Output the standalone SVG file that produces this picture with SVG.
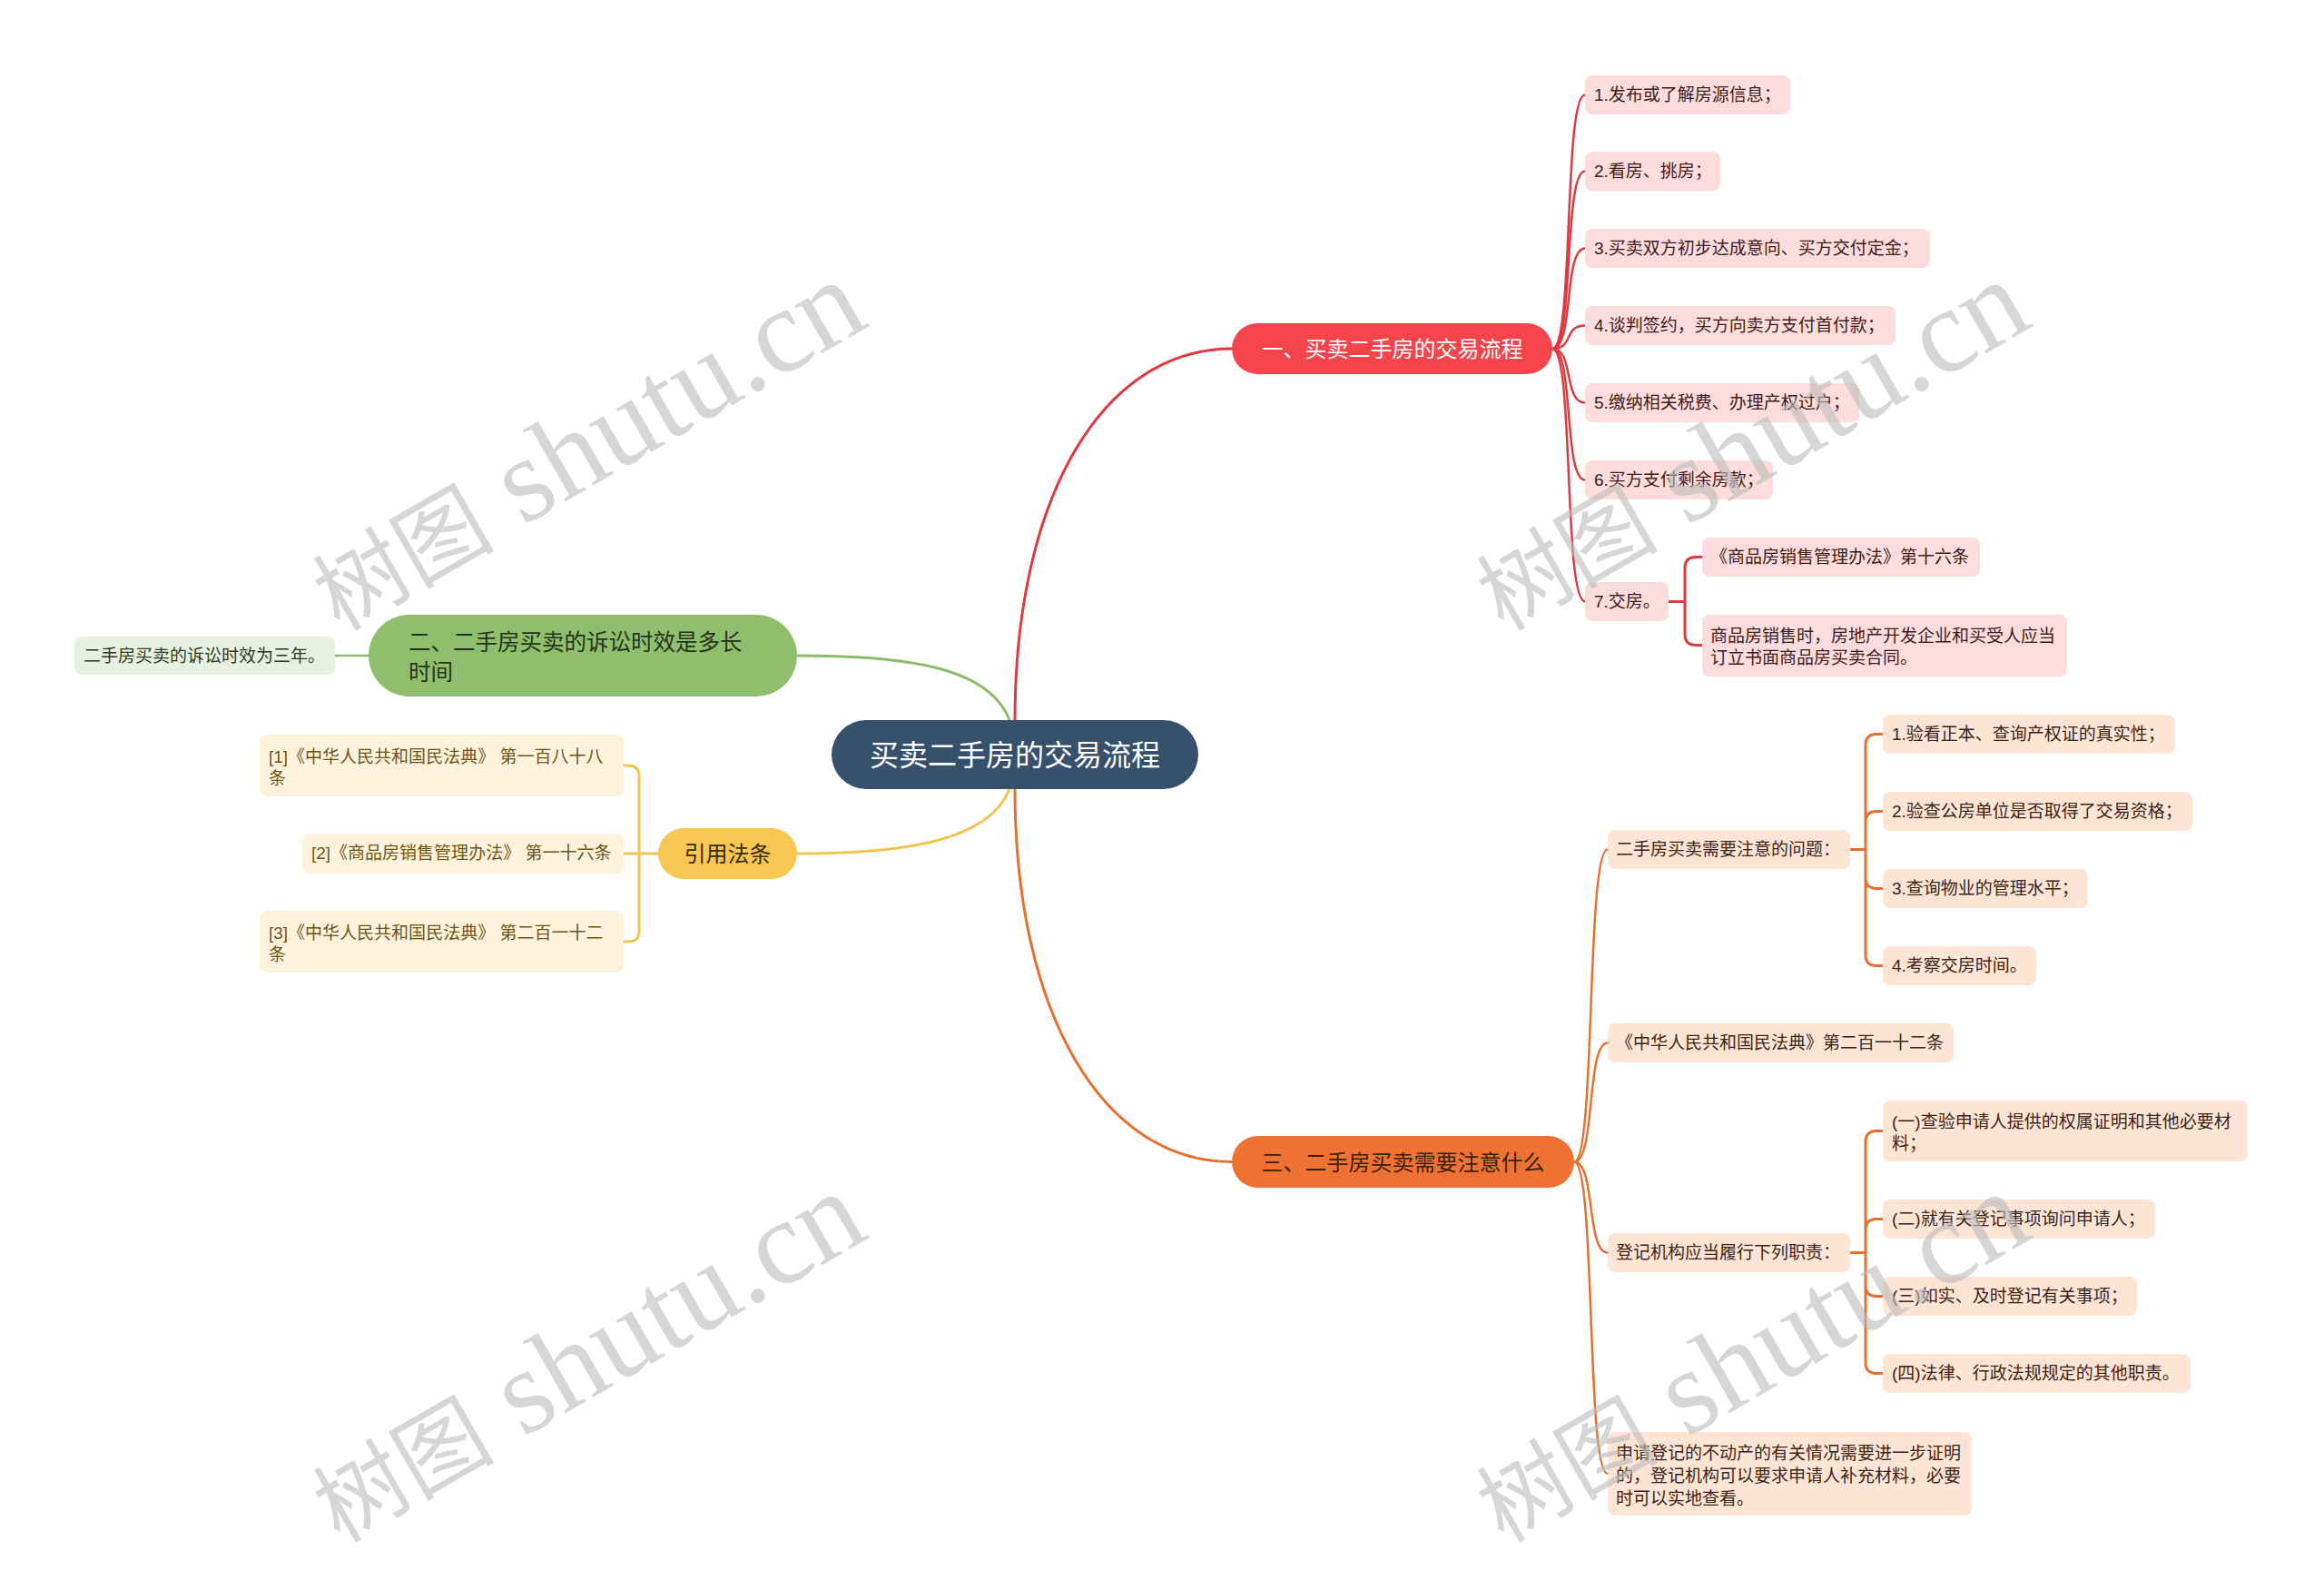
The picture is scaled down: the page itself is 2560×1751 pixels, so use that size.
<svg xmlns="http://www.w3.org/2000/svg" width="2560" height="1751" viewBox="0 0 2560 1751">
<style>
text{font-family:"Liberation Sans","Noto Sans CJK SC",sans-serif;}
.s{font-size:19px;}
.m{font-size:24px;}
.rb{fill:#fcdcdc;}
.rt{fill:#3d1b1b;}
.ob{fill:#fde4d5;}
.ot{fill:#3b2415;}
.yb{fill:#fdf3dd;}
.yt{fill:#6f5416;}
.gb{fill:#e8f1e1;}
.gt{fill:#2d3a22;}
.cr{fill:none;stroke:#e0383f;stroke-width:2.5;}
.co{fill:none;stroke:#e8702e;stroke-width:2.5;}
.cg{fill:none;stroke:#8dbd6c;stroke-width:2.5;}
.cy{fill:none;stroke:#f0c44f;stroke-width:2.5;}
.br{stroke-width:3;}
.wm{fill:#bdbdbd;opacity:0.62;font-family:"Liberation Serif","Noto Sans CJK SC",serif;}
</style>
<rect width="2560" height="1751" fill="#ffffff"/>
<g id="connectors">
<path class="cr" style="stroke-width:3" d="M1118 793 C1118 548 1214 384 1357 384"/>
<path class="co" style="stroke-width:3" d="M1118 869 C1118 1115 1214 1279.5 1357 1279.5"/>
<path class="cg" style="stroke-width:3" d="M1112 793 C1090 735 1000 722 878 722"/>
<path class="cy" style="stroke-width:3" d="M1112 869 C1090 925 1000 940 878 940"/>
<path class="cg" d="M406 722 H369"/>
<path class="cr" d="M1710 384 C1734 384 1722 104.5 1746 104.5"/>
<path class="cr" d="M1710 384 C1734 384 1722 188.5 1746 188.5"/>
<path class="cr" d="M1710 384 C1734 384 1722 273.5 1746 273.5"/>
<path class="cr" d="M1710 384 C1734 384 1722 358.5 1746 358.5"/>
<path class="cr" d="M1710 384 C1734 384 1722 443.5 1746 443.5"/>
<path class="cr" d="M1710 384 C1734 384 1722 528.5 1746 528.5"/>
<path class="cr" d="M1710 384 C1734 384 1722 662.5 1746 662.5"/>
<path class="cr br" d="M1838 662.5 H1856 M1875 613.5 H1868 Q1856 613.5 1856 625.5 V698.5 Q1856 710.5 1868 710.5 H1875"/>
<path class="co" d="M1734 1279.5 C1758 1279.5 1747 935.5 1771 935.5"/>
<path class="co" d="M1734 1279.5 C1758 1279.5 1747 1148.5 1771 1148.5"/>
<path class="co" d="M1734 1279.5 C1758 1279.5 1747 1379.5 1771 1379.5"/>
<path class="co" d="M1734 1279.5 C1758 1279.5 1747 1623 1771 1623"/>
<path class="co br" d="M2038 935.5 H2055 M2074 808.5 H2067 Q2055 808.5 2055 820.5 V1051.5 Q2055 1063.5 2067 1063.5 H2074 M2055 905.5 Q2055 893.5 2067 893.5 H2074 M2055 966.5 Q2055 978.5 2067 978.5 H2074"/>
<path class="co br" d="M2038 1379.5 H2055 M2074 1245.5 H2067 Q2055 1245.5 2055 1257.5 V1500.5 Q2055 1512.5 2067 1512.5 H2074 M2055 1354.5 Q2055 1342.5 2067 1342.5 H2074 M2055 1415.5 Q2055 1427.5 2067 1427.5 H2074"/>
<path class="cy br" d="M725 940 H687 M687 843 H692 Q704 843 704 855 V1025 Q704 1037 692 1037 H687"/>
</g>
<g id="root">
<rect x="916" y="793" width="404" height="76" rx="38" fill="#37506c"/>
<text x="1118" y="843" font-size="32" fill="#ffffff" text-anchor="middle">买卖二手房的交易流程</text>
</g>
<g id="n1">
<rect x="1357" y="356" width="353" height="56" rx="28" fill="#f5444b"/>
<text class="m" x="1533.5" y="392.5" fill="#ffffff" text-anchor="middle">一、买卖二手房的交易流程</text>
</g>
<g id="n1-1"><rect class="rb" x="1746" y="83" width="226" height="43" rx="8"/><text class="s rt" x="1756" y="111">1.发布或了解房源信息；</text></g>
<g id="n1-2"><rect class="rb" x="1746" y="167" width="149" height="43" rx="8"/><text class="s rt" x="1756" y="195">2.看房、挑房；</text></g>
<g id="n1-3"><rect class="rb" x="1746" y="252" width="380" height="43" rx="8"/><text class="s rt" x="1756" y="280">3.买卖双方初步达成意向、买方交付定金；</text></g>
<g id="n1-4"><rect class="rb" x="1746" y="337" width="342" height="43" rx="8"/><text class="s rt" x="1756" y="365">4.谈判签约，买方向卖方支付首付款；</text></g>
<g id="n1-5"><rect class="rb" x="1746" y="422" width="302" height="43" rx="8"/><text class="s rt" x="1756" y="450">5.缴纳相关税费、办理产权过户；</text></g>
<g id="n1-6"><rect class="rb" x="1746" y="507" width="207" height="43" rx="8"/><text class="s rt" x="1756" y="535">6.买方支付剩余房款；</text></g>
<g id="n1-7"><rect class="rb" x="1746" y="641" width="92" height="43" rx="8"/><text class="s rt" x="1756" y="669">7.交房。</text></g>
<g id="n1-7-1"><rect class="rb" x="1875" y="592" width="306" height="43" rx="8"/><text class="s rt" x="1884" y="620">《商品房销售管理办法》第十六条</text></g>
<g id="n1-7-2"><rect class="rb" x="1875" y="677" width="402" height="68" rx="8"/><text class="s rt" x="1884" y="707">商品房销售时，房地产开发企业和买受人应当</text><text class="s rt" x="1884" y="731">订立书面商品房买卖合同。</text></g>
<g id="n3">
<rect x="1357" y="1251" width="377" height="57" rx="28.5" fill="#f07233"/>
<text class="m" x="1545.5" y="1288.5" fill="#3a200f" text-anchor="middle">三、二手房买卖需要注意什么</text>
</g>
<g id="n3-1"><rect class="ob" x="1771" y="914" width="267" height="43" rx="8"/><text class="s ot" x="1780" y="942">二手房买卖需要注意的问题：</text></g>
<g id="n3-1-1"><rect class="ob" x="2074" y="787" width="322" height="43" rx="8"/><text class="s ot" x="2084" y="815">1.验看正本、查询产权证的真实性；</text></g>
<g id="n3-1-2"><rect class="ob" x="2074" y="872" width="341" height="43" rx="8"/><text class="s ot" x="2084" y="900">2.验查公房单位是否取得了交易资格；</text></g>
<g id="n3-1-3"><rect class="ob" x="2074" y="957" width="226" height="43" rx="8"/><text class="s ot" x="2084" y="985">3.查询物业的管理水平；</text></g>
<g id="n3-1-4"><rect class="ob" x="2074" y="1042" width="169" height="43" rx="8"/><text class="s ot" x="2084" y="1070">4.考察交房时间。</text></g>
<g id="n3-2"><rect class="ob" x="1771" y="1127" width="381" height="43" rx="8"/><text class="s ot" x="1780" y="1155">《中华人民共和国民法典》第二百一十二条</text></g>
<g id="n3-3"><rect class="ob" x="1771" y="1358" width="267" height="43" rx="8"/><text class="s ot" x="1780" y="1386">登记机构应当履行下列职责：</text></g>
<g id="n3-3-1"><rect class="ob" x="2074" y="1212" width="402" height="67" rx="8"/><text class="s ot" x="2084" y="1242">(一)查验申请人提供的权属证明和其他必要材</text><text class="s ot" x="2084" y="1266">料；</text></g>
<g id="n3-3-2"><rect class="ob" x="2074" y="1321" width="300" height="43" rx="8"/><text class="s ot" x="2084" y="1349">(二)就有关登记事项询问申请人；</text></g>
<g id="n3-3-3"><rect class="ob" x="2074" y="1406" width="280" height="43" rx="8"/><text class="s ot" x="2084" y="1434">(三)如实、及时登记有关事项；</text></g>
<g id="n3-3-4"><rect class="ob" x="2074" y="1491" width="339" height="43" rx="8"/><text class="s ot" x="2084" y="1519">(四)法律、行政法规规定的其他职责。</text></g>
<g id="n3-4"><rect class="ob" x="1771" y="1577" width="401" height="92" rx="8"/><text class="s ot" x="1780" y="1607">申请登记的不动产的有关情况需要进一步证明</text><text class="s ot" x="1780" y="1632">的，登记机构可以要求申请人补充材料，必要</text><text class="s ot" x="1780" y="1657">时可以实地查看。</text></g>
<g id="n2">
<rect x="406" y="677" width="472" height="90" rx="45" fill="#8fbf6d"/>
<text x="450" y="716" font-size="24.5" fill="#26331b">二、二手房买卖的诉讼时效是多长</text>
<text x="450" y="749" font-size="24.5" fill="#26331b">时间</text>
</g>
<g id="n2-1"><rect class="gb" x="82" y="701" width="287" height="42" rx="8"/><text class="s gt" x="92" y="729">二手房买卖的诉讼时效为三年。</text></g>
<g id="n4">
<rect x="725" y="912" width="153" height="56" rx="28" fill="#f8c653"/>
<text class="m" x="801.5" y="949" fill="#3a2c06" text-anchor="middle">引用法条</text>
</g>
<g id="n4-1"><rect class="yb" x="286" y="809" width="401" height="68" rx="8"/><text class="s yt" x="296" y="840">[1]《中华人民共和国民法典》 第一百八十八</text><text class="s yt" x="296" y="864">条</text></g>
<g id="n4-2"><rect class="yb" x="333" y="918" width="354" height="44" rx="8"/><text class="s yt" x="343" y="946">[2]《商品房销售管理办法》 第一十六条</text></g>
<g id="n4-3"><rect class="yb" x="286" y="1003" width="401" height="68" rx="8"/><text class="s yt" x="296" y="1034">[3]《中华人民共和国民法典》 第二百一十二</text><text class="s yt" x="296" y="1058">条</text></g>
<g id="watermarks">
<text class="wm" transform="translate(374 696) rotate(-30)"><tspan font-size="100">树图</tspan><tspan font-size="132"> shutu.cn</tspan></text>
<text class="wm" transform="translate(1656 696) rotate(-30)"><tspan font-size="100">树图</tspan><tspan font-size="132"> shutu.cn</tspan></text>
<text class="wm" transform="translate(374 1700) rotate(-30)"><tspan font-size="100">树图</tspan><tspan font-size="132"> shutu.cn</tspan></text>
<text class="wm" transform="translate(1656 1700) rotate(-30)"><tspan font-size="100">树图</tspan><tspan font-size="132"> shutu.cn</tspan></text>
</g>
</svg>
